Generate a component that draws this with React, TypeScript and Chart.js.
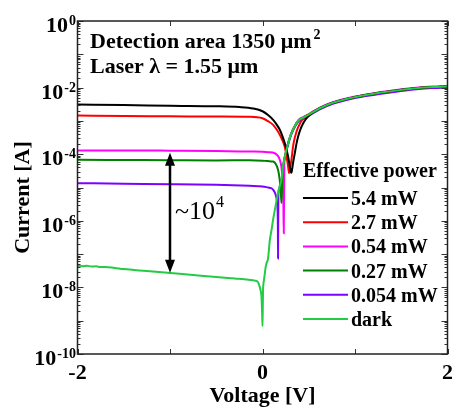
import React, { useEffect, useRef } from 'react';
import { Chart, registerables } from 'chart.js';

Chart.register(...registerables);

// ---------- data ----------
const seriesLabels = ['5.4 mW', '2.7 mW', '0.54 mW', '0.27 mW', '0.054 mW', 'dark'];
const seriesColors = ['#000000', '#ff0000', '#ff00ff', '#008000', '#8000ff', '#22cc44'];

const v5p4 = [-2, -1.5, -1, -0.5, -0.25, -0.1, 0, 0.06, 0.115, 0.155, 0.187, 0.215, 0.24, 0.26, 0.277, 0.29, 0.3, 0.308, 0.313, 0.32, 0.335, 0.35, 0.365, 0.385, 0.41, 0.44, 0.47, 0.51, 0.56, 0.62, 0.76, 0.94, 1.12, 1.3, 1.48, 1.66, 1.84, 2.0];
const i5p4 = [3.1e-3, 3.0e-3, 2.85e-3, 2.75e-3, 2.6e-3, 2.35e-3, 1.95e-3, 1.5e-3, 1.07e-3, 7.6e-4, 5.4e-4, 3.5e-4, 2.2e-4, 1.35e-4, 8.5e-5, 5.2e-5, 3.6e-5, 2.9e-5, 2.75e-5, 3.5e-5, 6.5e-5, 1.1e-4, 1.9e-4, 3.4e-4, 5.6e-4, 8.5e-4, 1.15e-3, 1.5e-3, 1.9e-3, 2.4e-3, 3.5e-3, 4.8e-3, 6.0e-3, 7.2e-3, 8.4e-3, 9.6e-3, 1.04e-2, 1.08e-2];

const v2p7 = [-2, -1.5, -1, -0.5, -0.14, 0, 0.06, 0.115, 0.155, 0.187, 0.215, 0.24, 0.255, 0.266, 0.278, 0.287, 0.296, 0.305, 0.313, 0.33, 0.35, 0.38, 0.44, 0.51, 0.56, 0.62, 0.76, 0.94, 1.12, 1.3, 1.48, 1.66, 1.84, 2.0];
const i2p7 = [1.45e-3, 1.4e-3, 1.38e-3, 1.35e-3, 1.33e-3, 1.2e-3, 9.8e-4, 7.6e-4, 5.4e-4, 3.8e-4, 2.6e-4, 1.7e-4, 1.05e-4, 6.8e-5, 4.0e-5, 2.7e-5, 3.5e-5, 5.0e-5, 6.8e-5, 1.7e-4, 3.2e-4, 6.0e-4, 1.2e-3, 1.6e-3, 2.0e-3, 2.4e-3, 3.5e-3, 4.8e-3, 6.0e-3, 7.2e-3, 8.4e-3, 9.6e-3, 1.04e-2, 1.08e-2];

const v0p54 = [-2, -1.5, -1, -0.5, -0.14, 0, 0.06, 0.133, 0.165, 0.187, 0.205, 0.218, 0.226, 0.23, 0.236, 0.245, 0.259, 0.285, 0.313, 0.34, 0.367, 0.4, 0.44, 0.51, 0.62, 0.76, 0.94, 1.12, 1.3, 1.48, 1.66, 1.84, 2.0];
const i0p54 = [1.3e-4, 1.3e-4, 1.28e-4, 1.25e-4, 1.2e-4, 1.18e-4, 1.15e-4, 1.07e-4, 9.0e-5, 6.8e-5, 4.0e-5, 1.5e-5, 3.0e-6, 4.2e-7, 6.5e-5, 9.0e-5, 1.4e-4, 2.6e-4, 4.45e-4, 6.4e-4, 8.8e-4, 1.14e-3, 1.3e-3, 1.66e-3, 2.5e-3, 3.65e-3, 5.0e-3, 6.2e-3, 7.5e-3, 8.7e-3, 9.9e-3, 1.07e-2, 1.1e-2];

const v0p27 = [-2, -1.5, -1, -0.5, -0.14, 0, 0.06, 0.115, 0.145, 0.168, 0.185, 0.197, 0.205, 0.21, 0.215, 0.222, 0.24, 0.259, 0.285, 0.313, 0.34, 0.367, 0.4, 0.44, 0.51, 0.62, 0.76, 0.94, 1.12, 1.3, 1.48, 1.66, 1.84, 2.0];
const i0p27 = [6.8e-5, 6.7e-5, 6.6e-5, 6.5e-5, 6.6e-5, 6.4e-5, 6.2e-5, 6.0e-5, 5.0e-5, 3.4e-5, 1.8e-5, 8.0e-6, 3.4e-6, 8.0e-6, 2.5e-5, 4.3e-5, 8.0e-5, 1.35e-4, 2.5e-4, 4.3e-4, 6.2e-4, 8.5e-4, 1.1e-3, 1.25e-3, 1.6e-3, 2.4e-3, 3.5e-3, 4.8e-3, 6.0e-3, 7.2e-3, 8.4e-3, 9.6e-3, 1.04e-2, 1.08e-2];

const v0p054 = [-2, -1.5, -1, -0.5, -0.14, 0, 0.06, 0.097, 0.12, 0.14, 0.155, 0.162, 0.166, 0.168, 0.172, 0.18, 0.19, 0.205, 0.222, 0.24, 0.259, 0.285, 0.313, 0.34, 0.367, 0.4, 0.44, 0.51, 0.62, 0.76, 0.94, 1.12, 1.3, 1.48, 1.66, 1.84, 2.0];
const i0p054 = [1.35e-5, 1.3e-5, 1.26e-5, 1.2e-5, 1.12e-5, 1.08e-5, 1.0e-5, 9.5e-6, 8.2e-6, 6.3e-6, 4.2e-6, 2.5e-6, 8.0e-7, 7.4e-8, 6.0e-6, 9.0e-6, 1.2e-5, 1.6e-5, 4.0e-5, 7.4e-5, 1.25e-4, 2.32e-4, 4.0e-4, 5.8e-4, 7.9e-4, 1.02e-3, 1.16e-3, 1.49e-3, 2.24e-3, 3.27e-3, 4.48e-3, 5.6e-3, 6.7e-3, 7.8e-3, 8.9e-3, 9.7e-3, 1.0e-2];

const vDark = [-2, -1.95, -1.9, -1.85, -1.8, -1.75, -1.7, -1.6, -1.5, -1.25, -1, -0.75, -0.5, -0.3, -0.15, -0.083, -0.05, -0.037, -0.02, -0.011, -0.004, 0, 0.003, 0.006, 0.015, 0.025, 0.035, 0.043, 0.06, 0.079, 0.097, 0.115, 0.133, 0.15, 0.168, 0.185, 0.205, 0.222, 0.24, 0.259, 0.285, 0.313, 0.34, 0.367, 0.4, 0.44, 0.51, 0.62, 0.76, 0.94, 1.12, 1.3, 1.48, 1.66, 1.84, 2.0];
const iDark = [4.5e-8, 4.35e-8, 4.45e-8, 4.25e-8, 4.3e-8, 4.1e-8, 4.1e-8, 3.85e-8, 3.55e-8, 3.1e-8, 2.7e-8, 2.35e-8, 2.05e-8, 1.85e-8, 1.7e-8, 1.6e-8, 1.45e-8, 1.2e-8, 8.0e-9, 5.2e-9, 1.7e-9, 6.9e-10, 2.5e-9, 8.3e-9, 1.6e-8, 2.6e-8, 4.2e-8, 5.2e-8, 7.4e-8, 2.6e-7, 5.2e-7, 1.1e-6, 2.1e-6, 3.8e-6, 6.8e-6, 1.07e-5, 1.7e-5, 4.3e-5, 8.0e-5, 1.35e-4, 2.5e-4, 4.3e-4, 6.2e-4, 8.5e-4, 1.1e-3, 1.25e-3, 1.6e-3, 2.4e-3, 3.5e-3, 4.8e-3, 6.0e-3, 7.2e-3, 8.4e-3, 9.6e-3, 1.04e-2, 1.08e-2];

const seriesV = [v5p4, v2p7, v0p54, v0p27, v0p054, vDark];
const seriesI = [i5p4, i2p7, i0p54, i0p27, i0p054, iDark];
const drawOrder = [1, 2, 4, 3, 5, 0];

const xMin = -2;
const xMax = 2;
const xMajorTicks = [-2, -1, 0, 1, 2];
const xTickLabels = ['-2', '', '0', '', '2'];
const yMinExp = -10;
const yMaxExp = 0;
const yLabelExps = [0, -2, -4, -6, -8, -10];

const annotationLines = ['Detection area 1350 \u03bcm', 'Laser \u03bb = 1.55 \u03bcm'];
const legendTitle = 'Effective power';
const arrowV = -1;
const arrowTopI = 1.1e-4;
const arrowBottomI = 2.75e-8;

const SERIF = "'Liberation Serif', 'Times New Roman', serif";

const overlayPlugin = {
  id: 'overlay',
  afterDraw(chart: any) {
    const { ctx, chartArea: a, scales } = chart;
    const xs = scales.x;
    const ys = scales.y;
    ctx.save();
    const line = (x1: number, y1: number, x2: number, y2: number) => {
      ctx.beginPath();
      ctx.moveTo(x1, y1);
      ctx.lineTo(x2, y2);
      ctx.stroke();
    };
    // ticks
    ctx.strokeStyle = '#333';
    ctx.lineWidth = 1;
    xMajorTicks.forEach((v) => {
      const px = Math.round(xs.getPixelForValue(v)) + 0.5;
      line(px, a.bottom, px, a.bottom - 5);
      line(px, a.top, px, a.top + 5);
    });
    for (let e = yMinExp; e <= yMaxExp; e++) {
      const py = Math.round(ys.getPixelForValue(Math.pow(10, e))) + 0.5;
      line(a.left, py, a.left + 6, py);
      line(a.right, py, a.right - 6, py);
      if (e < yMaxExp) {
        for (let m = 2; m <= 9; m++) {
          const pm = Math.round(ys.getPixelForValue(m * Math.pow(10, e))) + 0.5;
          line(a.left, pm, a.left + 3, pm);
          line(a.right, pm, a.right - 3, pm);
        }
      }
    }
    // frame
    ctx.strokeStyle = '#222';
    ctx.lineWidth = 1.5;
    ctx.strokeRect(a.left, a.top, a.right - a.left, a.bottom - a.top);

    ctx.fillStyle = '#000';
    // x tick labels
    ctx.font = `bold 22px ${SERIF}`;
    ctx.textAlign = 'center';
    ctx.textBaseline = 'alphabetic';
    xMajorTicks.forEach((v, i) => {
      if (xTickLabels[i]) ctx.fillText(xTickLabels[i], xs.getPixelForValue(v), a.bottom + 25);
    });
    // y tick labels
    yLabelExps.forEach((e) => {
      const py = ys.getPixelForValue(Math.pow(10, e));
      ctx.font = `bold 14px ${SERIF}`;
      const ew = ctx.measureText(String(e)).width;
      ctx.textAlign = 'right';
      ctx.fillText(String(e), 76, py + 4);
      ctx.font = `bold 22px ${SERIF}`;
      ctx.fillText('10', 76 - ew - 1, py + 11);
    });
    // axis titles
    ctx.font = `bold 22px ${SERIF}`;
    ctx.textAlign = 'center';
    ctx.fillText('Voltage [V]', (a.left + a.right) / 2, 402);
    ctx.save();
    ctx.translate(29, (a.top + a.bottom) / 2 + 10);
    ctx.rotate(-Math.PI / 2);
    ctx.fillText('Current [A]', 0, 0);
    ctx.restore();

    // annotation text
    ctx.textAlign = 'left';
    ctx.font = `bold 22px ${SERIF}`;
    ctx.fillText(annotationLines[0], 90, 48);
    const w0 = ctx.measureText(annotationLines[0]).width;
    ctx.font = `bold 14px ${SERIF}`;
    ctx.fillText('2', 90 + w0 + 2, 39);
    ctx.font = `bold 22px ${SERIF}`;
    ctx.fillText(annotationLines[1], 90, 73);

    // arrow
    const ax = xs.getPixelForValue(arrowV);
    const ay1 = ys.getPixelForValue(arrowTopI);
    const ay2 = ys.getPixelForValue(arrowBottomI);
    ctx.strokeStyle = '#000';
    ctx.lineWidth = 2.5;
    line(ax, ay1 + 10, ax, ay2 - 10);
    ctx.beginPath();
    ctx.moveTo(ax, ay1);
    ctx.lineTo(ax - 5, ay1 + 13);
    ctx.lineTo(ax + 5, ay1 + 13);
    ctx.closePath();
    ctx.fill();
    ctx.beginPath();
    ctx.moveTo(ax, ay2);
    ctx.lineTo(ax - 5, ay2 - 13);
    ctx.lineTo(ax + 5, ay2 - 13);
    ctx.closePath();
    ctx.fill();
    ctx.font = `26px ${SERIF}`;
    ctx.fillText('~10', ax + 5, 219);
    const tw = ctx.measureText('~10').width;
    ctx.font = `16px ${SERIF}`;
    ctx.fillText('4', ax + 5 + tw + 1, 207);

    // legend
    ctx.font = `bold 20px ${SERIF}`;
    ctx.fillText(legendTitle, 303, 177);
    seriesLabels.forEach((lab, i) => {
      const ry = 198 + i * 24.2;
      ctx.strokeStyle = seriesColors[i];
      ctx.lineWidth = 2;
      line(303, ry, 348, ry);
      ctx.fillText(lab, 351, ry + 7);
    });
    ctx.restore();
  },
};

export default function App() {
  const ref = useRef<HTMLCanvasElement>(null);
  useEffect(() => {
    if (!ref.current) return;
    const datasets = seriesLabels.map((lab, i) => ({
      label: lab,
      data: seriesV[i].map((v, j) => ({ x: v, y: seriesI[i][j] })),
      borderColor: seriesColors[i],
      backgroundColor: seriesColors[i],
      borderWidth: 2,
      pointRadius: 0,
      showLine: true,
      tension: 0,
      cubicInterpolationMode: 'monotone' as const,
      order: drawOrder[i],
    }));
    const chart = new Chart(ref.current, {
      type: 'scatter',
      data: { datasets },
      options: {
        responsive: false,
        animation: false,
        layout: { padding: { left: 77.5, right: 4.5, top: 21, bottom: 53 } },
        plugins: { legend: { display: false }, tooltip: { enabled: false } },
        scales: {
          x: { type: 'linear', min: xMin, max: xMax, display: false },
          y: { type: 'logarithmic', min: Math.pow(10, yMinExp), max: Math.pow(10, yMaxExp), display: false },
        },
      },
      plugins: [overlayPlugin],
    });
    return () => chart.destroy();
  }, []);
  return (
    <div style={{ position: 'absolute', left: 0, top: 0, width: 452, height: 407, background: '#fff' }}>
      <canvas ref={ref} width={452} height={407} style={{ display: 'block' }} />
    </div>
  );
}
